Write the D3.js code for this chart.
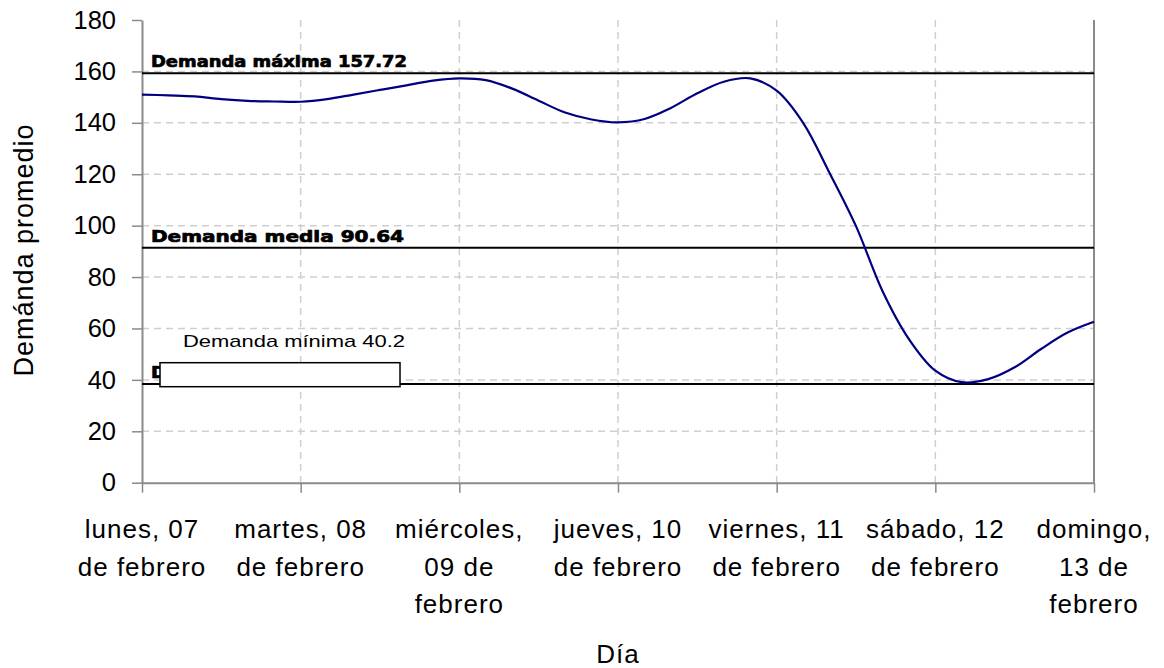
<!DOCTYPE html>
<html><head><meta charset="utf-8">
<script src="https://cdn.jsdelivr.net/npm/d3@7"></script>
<style>body{margin:0;background:#fff}svg{display:block}</style>
</head><body>
<svg id="c" width="1164" height="668"></svg>
<script>
// ---- data ----
const categoryLines = [
  ["lunes, 07", "de febrero"],
  ["martes, 08", "de febrero"],
  ["miércoles,", "09 de", "febrero"],
  ["jueves, 10", "de febrero"],
  ["viernes, 11", "de febrero"],
  ["sábado, 12", "de febrero"],
  ["domingo,", "13 de", "febrero"]
];
const demanda = [151.0,150.7,150.3,149.2,148.5,148.3,148.2,149.2,151.0,152.8,154.6,156.4,157.3,
  156.6,153.3,148.6,144.0,141.3,140.2,141.5,145.8,151.5,156.0,157.3,152.5,140.0,120.5,99.8,
  74.6,55.9,43.6,39.1,40.3,44.9,52.0,58.4,62.6];
const yTicks = [0,20,40,60,80,100,120,140,160,180];
const refValues = [159.3, 91.4, 38.4];
const refLabels = ["Demanda máxima 157.72", "Demanda media 90.64", "Demanda mínima 40.2"];
const minNote = "Demanda mínima 40.2";
const yTitle = "Demánda promedio";
const xTitle = "Día";

// ---- layout ----
const L = 142, R = 1094, T = 20, B = 482.7;
const svg = d3.select("#c");
const x = d3.scaleLinear().domain([0, demanda.length - 1]).range([L, R]);
const xc = d3.scaleLinear().domain([0, categoryLines.length - 1]).range([L, R]);
const y = d3.scaleLinear().domain([0, 180]).range([B, T]);
const FONT = "Liberation Sans, Arial, sans-serif";

// grid
svg.append("g").selectAll("line").data(yTicks.filter(d => d > 0 && d < 180)).join("line")
  .attr("x1", L).attr("x2", R).attr("y1", d => y(d)).attr("y2", d => y(d))
  .attr("stroke", "#cfcfcf").attr("stroke-width", 1.5).attr("stroke-dasharray", "7,5");
svg.append("g").selectAll("line").data(d3.range(1, categoryLines.length - 1)).join("line")
  .attr("x1", d => xc(d)).attr("x2", d => xc(d)).attr("y1", T).attr("y2", B)
  .attr("stroke", "#cfcfcf").attr("stroke-width", 1.5).attr("stroke-dasharray", "7,5");

// right border
svg.append("line").attr("x1", R).attr("x2", R).attr("y1", T).attr("y2", B)
  .attr("stroke", "#8a8a8a").attr("stroke-width", 2);

// y axis
const yAxis = svg.append("g").attr("transform", `translate(${L},0)`)
  .call(d3.axisLeft(y).tickValues(yTicks).tickSize(10).tickPadding(16).tickSizeOuter(0));
yAxis.select(".domain").attr("stroke", "#8a8a8a").attr("stroke-width", 2);
yAxis.selectAll(".tick line").attr("stroke", "#8a8a8a").attr("stroke-width", 1.5);
yAxis.selectAll(".tick text").attr("font-family", FONT)
  .attr("font-size", 25.5).attr("fill", "#000");

// x axis
const xAxis = svg.append("g").attr("transform", `translate(0,${B})`)
  .call(d3.axisBottom(xc).tickValues(d3.range(categoryLines.length)).tickSize(10).tickSizeOuter(0).tickFormat(""));
xAxis.select(".domain").attr("stroke", "#8a8a8a").attr("stroke-width", 2);
xAxis.selectAll(".tick line").attr("stroke", "#8a8a8a").attr("stroke-width", 1.5);
const xl = svg.append("g").selectAll("text").data(categoryLines).join("text")
  .attr("font-family", FONT).attr("font-size", 26)
  .attr("letter-spacing", 1).attr("text-anchor", "middle").attr("fill", "#000");
xl.each(function(lines, i) {
  d3.select(this).selectAll("tspan").data(lines).join("tspan")
    .attr("x", xc(i)).attr("y", (d, j) => 538 + j * 37.5).text(d => d);
});

// reference lines
svg.append("g").selectAll("line").data(refValues).join("line")
  .attr("x1", L).attr("x2", R).attr("y1", d => y(d)).attr("y2", d => y(d))
  .attr("stroke", "#000").attr("stroke-width", 2);
const refLen = [256, 253, 232];
svg.append("g").selectAll("text").data(refLabels).join("text")
  .attr("x", 151).attr("y", (d, i) => y(refValues[i]) - 6)
  .attr("font-family", "DejaVu Sans, sans-serif").attr("font-weight", "bold")
  .attr("font-size", 15.5).attr("fill", "#000").attr("stroke", "#000").attr("stroke-width", 0.7)
  .attr("textLength", (d, i) => refLen[i]).attr("lengthAdjust", "spacingAndGlyphs")
  .text(d => d);

// series
svg.append("path").datum(demanda)
  .attr("d", d3.line().x((d, i) => x(i)).y(d => y(d)).curve(d3.curveCatmullRom.alpha(0.5)))
  .attr("fill", "none").attr("stroke", "#000080").attr("stroke-width", 2.2);

// min label box (covers part of min line and hidden label)
svg.append("rect").attr("x", 160).attr("y", 362.7).attr("width", 240).attr("height", 24)
  .attr("fill", "#fff").attr("stroke", "#000").attr("stroke-width", 1.5);
svg.append("text").attr("x", 183).attr("y", 346.5)
  .attr("font-family", FONT).attr("font-size", 17)
  .attr("textLength", 222).attr("lengthAdjust", "spacingAndGlyphs").attr("fill", "#000")
  .text(minNote);

// titles
svg.append("text").attr("x", 618).attr("y", 663).attr("text-anchor", "middle")
  .attr("font-family", FONT).attr("font-size", 26)
  .attr("letter-spacing", 1).attr("fill", "#000").text(xTitle);
svg.append("text").attr("transform", "translate(33,250) rotate(-90)").attr("text-anchor", "middle")
  .attr("font-family", FONT).attr("font-size", 27)
  .attr("letter-spacing", 1).attr("fill", "#000").text(yTitle);
</script>
</body></html>
